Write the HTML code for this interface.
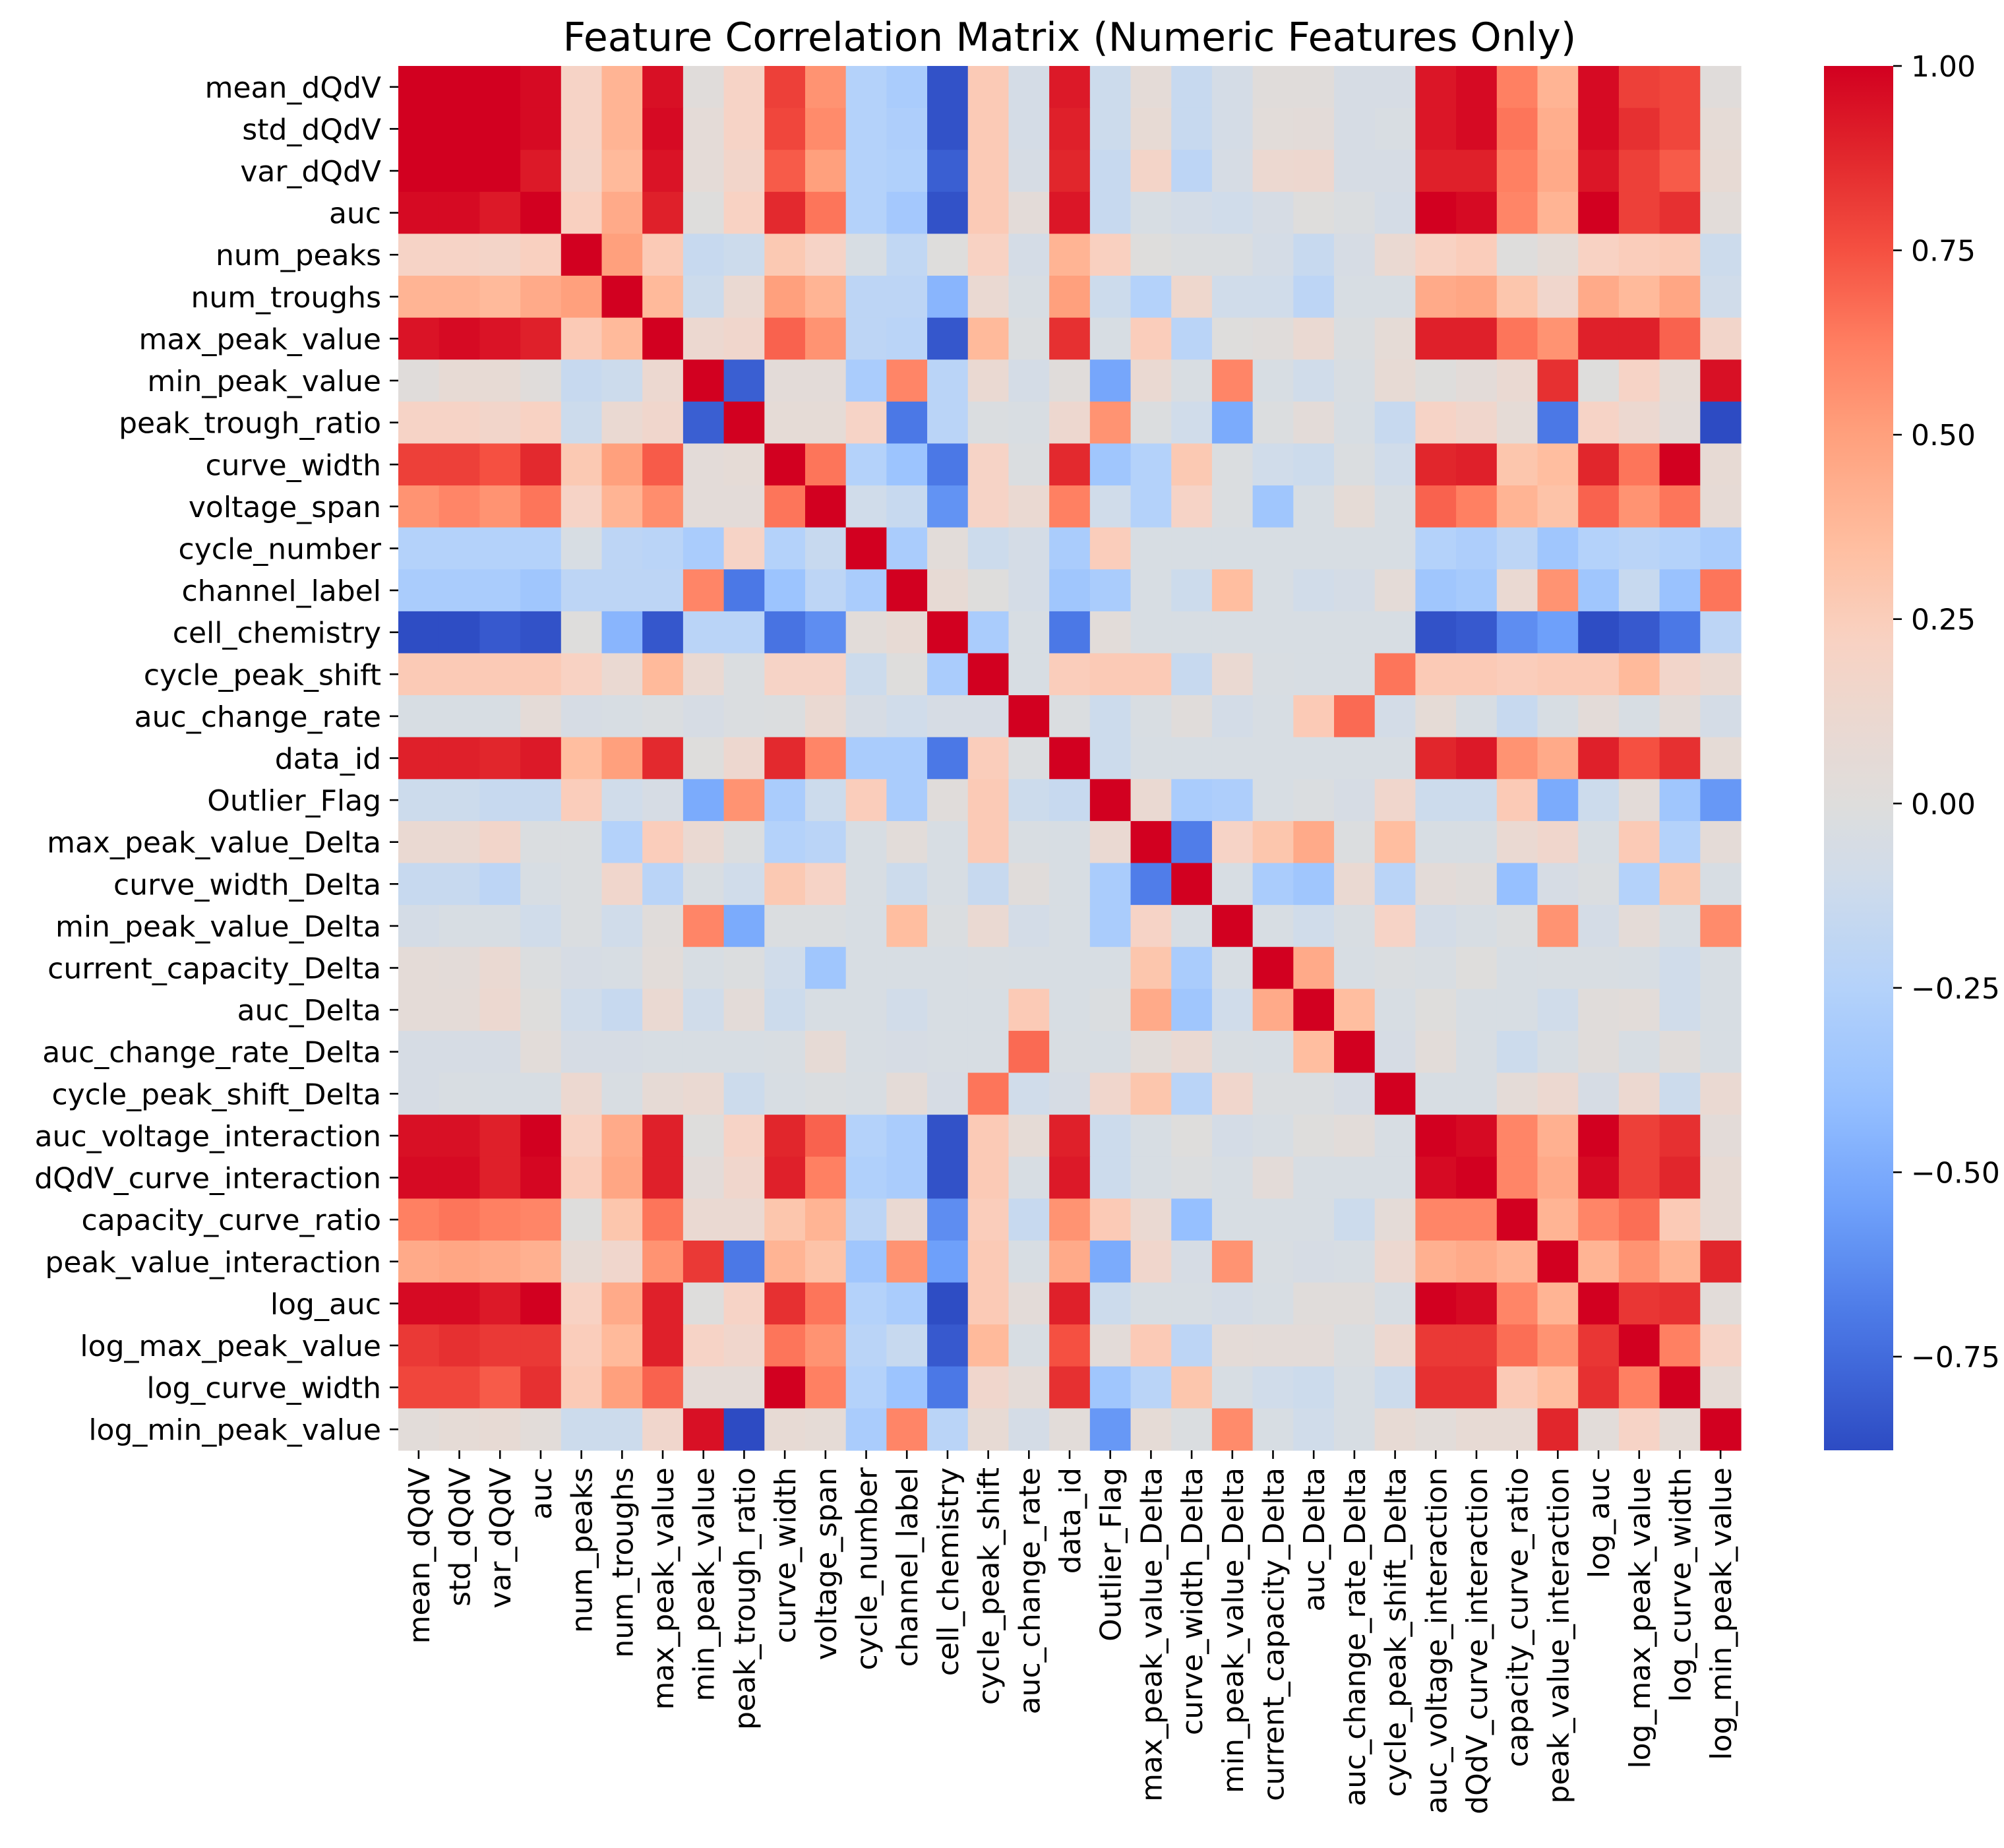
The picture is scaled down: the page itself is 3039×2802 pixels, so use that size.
<!DOCTYPE html>
<html><head><meta charset="utf-8"><style>
html,body{margin:0;padding:0;background:#fff}
svg text{font-family:"DejaVu Sans","Liberation Sans",sans-serif;fill:#000}
</style></head><body>
<svg id="chart" xmlns="http://www.w3.org/2000/svg" width="3039" height="2797" viewBox="0 0 3039 2797">
<rect width="3039" height="2797" fill="#fff"/>
<text x="1622" y="77" font-size="60" text-anchor="middle">Feature Correlation Matrix (Numeric Features Only)</text>
<g id="cells"></g><g id="ylabels"></g><g id="xlabels"></g>
<defs><linearGradient id="cbgrad" x1="0" y1="0" x2="0" y2="1"></linearGradient></defs>
<rect x="2766" y="100" width="105" height="2099" fill="url(#cbgrad)"/>
<g id="cbticks"></g>
</svg>
<script>
const features=["mean_dQdV","std_dQdV","var_dQdV","auc","num_peaks","num_troughs","max_peak_value","min_peak_value","peak_trough_ratio","curve_width","voltage_span","cycle_number","channel_label","cell_chemistry","cycle_peak_shift","auc_change_rate","data_id","Outlier_Flag","max_peak_value_Delta","curve_width_Delta","min_peak_value_Delta","current_capacity_Delta","auc_Delta","auc_change_rate_Delta","cycle_peak_shift_Delta","auc_voltage_interaction","dQdV_curve_interaction","capacity_curve_ratio","peak_value_interaction","log_auc","log_max_peak_value","log_curve_width","log_min_peak_value"];
const r0=[1,1,1,0.97,0.2,0.4,0.95,0.02,0.2,0.8,0.55,-0.25,-0.3,-0.85,0.27,-0.07,0.92,-0.12,0.05,-0.15,-0.07,0.02,0.02,-0.06,-0.06,0.93,0.97,0.62,0.4,0.97,0.8,0.78,0.02];
const r1=[1,1,1,0.97,0.2,0.4,0.97,0.05,0.2,0.78,0.58,-0.25,-0.28,-0.85,0.27,-0.07,0.9,-0.12,0.08,-0.15,-0.07,0.03,0.04,-0.06,-0.04,0.93,0.97,0.65,0.43,0.97,0.85,0.78,0.06];
const r2=[1,1,1,0.92,0.18,0.37,0.94,0.05,0.17,0.72,0.5,-0.25,-0.27,-0.8,0.27,-0.06,0.88,-0.15,0.18,-0.2,-0.06,0.12,0.13,-0.06,-0.06,0.9,0.9,0.62,0.45,0.93,0.8,0.72,0.08];
const r3=[0.97,0.97,0.92,1,0.23,0.45,0.9,0.0,0.22,0.87,0.65,-0.25,-0.33,-0.85,0.27,0.04,0.93,-0.15,-0.05,-0.08,-0.1,-0.06,0.0,-0.03,-0.07,1,0.97,0.6,0.4,1,0.8,0.85,0.03];
const r4=[0.2,0.2,0.18,0.23,1,0.5,0.27,-0.15,-0.12,0.28,0.2,-0.05,-0.18,0,0.22,-0.07,0.4,0.23,0,-0.03,-0.03,-0.07,-0.15,-0.06,0.1,0.22,0.25,0.0,0.06,0.22,0.25,0.27,-0.12];
const r5=[0.4,0.4,0.37,0.45,0.5,1,0.37,-0.12,0.1,0.5,0.4,-0.2,-0.2,-0.45,0.1,-0.05,0.5,-0.12,-0.25,0.14,-0.1,-0.1,-0.2,-0.05,-0.05,0.45,0.47,0.3,0.15,0.45,0.37,0.47,-0.1];
const r6=[0.94,0.97,0.94,0.9,0.27,0.37,1,0.12,0.15,0.7,0.55,-0.2,-0.22,-0.83,0.37,-0.03,0.85,-0.05,0.25,-0.22,0.0,0.02,0.1,-0.03,0.06,0.9,0.9,0.65,0.55,0.9,0.9,0.7,0.17];
const r7=[0.02,0.08,0.08,0.02,-0.15,-0.12,0.12,1,-0.8,0.04,0.04,-0.3,0.6,-0.22,0.1,-0.07,0.02,-0.52,0.1,-0.04,0.6,-0.05,-0.1,-0.04,0.08,0.0,0.04,0.1,0.85,0.0,0.2,0.06,0.95];
const r8=[0.2,0.2,0.17,0.22,-0.12,0.1,0.15,-0.8,1,0.06,0.06,0.2,-0.7,-0.22,-0.03,-0.04,0.13,0.55,-0.02,-0.1,-0.5,-0.02,0.04,-0.05,-0.15,0.2,0.15,0.06,-0.7,0.2,0.12,0.04,-0.88];
const r9=[0.8,0.8,0.75,0.87,0.28,0.5,0.72,0.04,0.06,1,0.65,-0.25,-0.37,-0.7,0.2,-0.03,0.87,-0.35,-0.25,0.28,-0.03,-0.1,-0.12,-0.03,-0.1,0.88,0.9,0.3,0.35,0.88,0.65,1,0.08];
const r10=[0.55,0.6,0.55,0.65,0.2,0.4,0.57,0.04,0.04,0.65,1,-0.1,-0.15,-0.6,0.2,0.1,0.62,-0.1,-0.25,0.2,-0.03,-0.35,-0.05,0.06,-0.05,0.7,0.62,0.4,0.32,0.7,0.55,0.65,0.07];
const r11=[-0.25,-0.25,-0.25,-0.25,-0.05,-0.2,-0.22,-0.3,0.2,-0.25,-0.15,1,-0.3,0.03,-0.12,-0.07,-0.3,0.25,-0.05,-0.05,-0.05,-0.05,-0.05,-0.05,-0.05,-0.25,-0.28,-0.2,-0.35,-0.25,-0.22,-0.25,-0.3];
const r12=[-0.3,-0.3,-0.3,-0.35,-0.2,-0.2,-0.2,0.6,-0.7,-0.37,-0.2,-0.3,1,0.08,0.0,-0.07,-0.35,-0.3,-0.05,-0.12,0.35,-0.05,-0.09,-0.07,0.05,-0.35,-0.32,0.1,0.55,-0.35,-0.15,-0.38,0.65];
const r13=[-0.87,-0.87,-0.82,-0.85,0.0,-0.45,-0.83,-0.22,-0.22,-0.72,-0.62,0.03,0.08,1,-0.3,-0.05,-0.7,0.03,-0.05,-0.05,-0.05,-0.05,-0.05,-0.05,-0.05,-0.85,-0.82,-0.62,-0.55,-0.87,-0.82,-0.7,-0.2];
const r14=[0.27,0.27,0.27,0.27,0.22,0.1,0.37,0.1,-0.03,0.2,0.2,-0.12,0.0,-0.3,1,-0.05,0.25,0.27,0.27,-0.15,0.1,-0.04,-0.05,-0.05,0.65,0.27,0.27,0.25,0.27,0.27,0.37,0.17,0.1];
const r15=[-0.05,-0.05,-0.05,0.05,-0.06,-0.05,-0.03,-0.06,-0.03,-0.02,0.1,-0.06,-0.1,-0.06,-0.06,1,-0.03,-0.12,-0.04,0.02,-0.08,-0.05,0.27,0.68,-0.08,0.06,-0.05,-0.15,-0.05,0.04,-0.05,0.04,-0.07];
const r16=[0.9,0.9,0.88,0.92,0.35,0.5,0.87,0.0,0.13,0.87,0.6,-0.3,-0.3,-0.7,0.25,-0.03,1,-0.12,-0.05,-0.05,-0.05,-0.05,-0.05,-0.05,-0.05,0.88,0.92,0.55,0.45,0.9,0.75,0.85,0.06];
const r17=[-0.12,-0.12,-0.15,-0.15,0.25,-0.1,-0.06,-0.5,0.55,-0.3,-0.12,0.25,-0.3,0.02,0.27,-0.12,-0.15,1,0.1,-0.3,-0.28,-0.05,-0.03,-0.06,0.15,-0.12,-0.12,0.27,-0.5,-0.12,0.04,-0.35,-0.58];
const r18=[0.1,0.1,0.17,-0.03,-0.03,-0.25,0.25,0.1,-0.02,-0.25,-0.22,-0.05,0.03,-0.05,0.27,-0.04,-0.05,0.1,1,-0.68,0.2,0.3,0.45,-0.02,0.35,-0.05,-0.05,0.1,0.15,-0.05,0.27,-0.25,0.05];
const r19=[-0.15,-0.15,-0.2,-0.05,-0.03,0.15,-0.22,-0.04,-0.1,0.28,0.2,-0.05,-0.12,-0.05,-0.15,0.02,-0.05,-0.3,-0.68,1,-0.05,-0.3,-0.35,0.1,-0.22,0.04,0.02,-0.4,-0.06,-0.03,-0.25,0.3,-0.05];
const r20=[-0.07,-0.05,-0.05,-0.1,-0.03,-0.1,0.02,0.6,-0.5,-0.03,-0.03,-0.05,0.35,-0.03,0.1,-0.08,-0.05,-0.3,0.2,-0.05,1,-0.05,-0.1,-0.04,0.2,-0.08,-0.05,-0.02,0.55,-0.07,0.05,-0.05,0.58];
const r21=[0.05,0.04,0.1,-0.02,-0.06,-0.05,0.03,-0.05,-0.02,-0.1,-0.35,-0.05,-0.05,-0.05,-0.04,-0.05,-0.05,-0.05,0.3,-0.3,-0.05,1,0.45,-0.05,-0.03,-0.04,0.0,-0.05,-0.04,-0.04,-0.05,-0.1,-0.05];
const r22=[0.05,0.05,0.12,0.0,-0.1,-0.15,0.1,-0.1,0.04,-0.12,-0.05,-0.05,-0.09,-0.05,-0.05,0.27,-0.05,-0.03,0.45,-0.35,-0.1,0.45,1,0.35,-0.05,0.0,-0.05,-0.05,-0.1,0.02,0.03,-0.1,-0.05];
const r23=[-0.06,-0.06,-0.06,0.03,-0.06,-0.06,-0.05,-0.05,-0.05,-0.04,0.07,-0.05,-0.06,-0.05,-0.05,0.68,-0.04,-0.05,0.03,0.1,-0.04,-0.05,0.35,1,-0.06,0.03,-0.05,-0.12,-0.05,0.02,-0.05,0.02,-0.05];
const r24=[-0.06,-0.04,-0.05,-0.05,0.12,-0.04,0.07,0.1,-0.12,-0.05,-0.03,-0.04,0.05,-0.06,0.65,-0.1,-0.06,0.15,0.3,-0.22,0.15,-0.03,-0.03,-0.06,1,-0.05,-0.05,0.05,0.12,-0.06,0.12,-0.12,0.1];
const r25=[0.95,0.95,0.9,1,0.22,0.45,0.9,0.0,0.2,0.88,0.7,-0.25,-0.3,-0.85,0.27,0.06,0.9,-0.12,-0.05,0.0,-0.07,-0.05,0.0,0.03,-0.05,1,0.97,0.6,0.42,1,0.8,0.85,0.04];
const r26=[0.97,0.97,0.9,0.98,0.25,0.47,0.9,0.04,0.15,0.9,0.62,-0.27,-0.3,-0.85,0.27,-0.05,0.92,-0.12,-0.05,-0.02,-0.05,0.04,-0.05,-0.05,-0.05,0.97,1,0.6,0.45,0.97,0.8,0.88,0.08];
const r27=[0.62,0.65,0.62,0.6,0.0,0.3,0.65,0.1,0.1,0.3,0.4,-0.2,0.1,-0.62,0.25,-0.15,0.55,0.27,0.1,-0.4,-0.05,-0.05,-0.05,-0.12,0.05,0.6,0.6,1,0.4,0.6,0.67,0.27,0.08];
const r28=[0.45,0.47,0.45,0.42,0.08,0.15,0.55,0.82,-0.7,0.4,0.32,-0.35,0.55,-0.55,0.27,-0.05,0.45,-0.5,0.15,-0.06,0.55,-0.04,-0.06,-0.05,0.12,0.42,0.45,0.4,1,0.4,0.55,0.4,0.88];
const r29=[0.97,0.97,0.92,1,0.22,0.45,0.9,0.0,0.2,0.85,0.65,-0.25,-0.3,-0.87,0.27,0.04,0.9,-0.12,-0.05,-0.05,-0.07,-0.05,0.02,0.02,-0.05,1,0.97,0.6,0.4,1,0.83,0.85,0.03];
const r30=[0.82,0.85,0.82,0.82,0.25,0.37,0.9,0.2,0.15,0.65,0.55,-0.22,-0.15,-0.82,0.37,-0.05,0.75,0.04,0.27,-0.2,0.05,0.04,0.04,-0.03,0.12,0.82,0.82,0.67,0.55,0.83,1,0.62,0.2];
const r31=[0.78,0.78,0.72,0.85,0.27,0.5,0.7,0.05,0.05,1,0.62,-0.25,-0.37,-0.7,0.15,0.05,0.85,-0.35,-0.22,0.3,-0.05,-0.1,-0.12,-0.05,-0.12,0.85,0.85,0.27,0.35,0.85,0.62,1,0.06];
const r32=[0.03,0.06,0.08,0.03,-0.12,-0.12,0.15,0.95,-0.88,0.08,0.06,-0.3,0.6,-0.22,0.08,-0.07,0.03,-0.58,0.06,-0.03,0.58,-0.05,-0.1,-0.05,0.08,0.03,0.08,0.08,0.88,0.03,0.2,0.06,1];
const matrix=[r0,r1,r2,r3,r4,r5,r6,r7,r8,r9,r10,r11,r12,r13,r14,r15,r16,r17,r18,r19,r20,r21,r22,r23,r24,r25,r26,r27,r28,r29,r30,r31,r32];
const cbTicks=[1.0,0.75,0.5,0.25,0.0,-0.25,-0.5,-0.75];
const cbTickLabels=["1.00","0.75","0.50","0.25","0.00","\u22120.25","\u22120.50","\u22120.75"];
const vmin=-0.877, vmax=1.0;

const NS="http://www.w3.org/2000/svg";
const X0=604,Y0=100,W=2036,H=2099,n=features.length,cw=W/n,ch=H/n;
const xPos=i=>X0+i*cw, yPos=i=>Y0+i*ch;
const anchors=[[-0.877,[45,75,195]],[-0.7,[75,120,230]],[-0.55,[110,160,250]],[-0.4,[150,192,255]],[-0.25,[180,210,250]],[-0.1,[208,220,234]],[0,[222,221,220]],[0.12,[236,216,208]],[0.22,[248,210,195]],[0.35,[255,190,160]],[0.5,[255,160,125]],[0.62,[255,128,98]],[0.75,[245,80,65]],[0.88,[225,38,44]],[1.0,[210,0,32]]];
function color(v){
  if(v<=anchors[0][0])return `rgb(${anchors[0][1]})`;
  for(let k=1;k<anchors.length;k++){
    if(v<=anchors[k][0]){
      const [a,ca]=anchors[k-1],[b,cb]=anchors[k],t=(v-a)/(b-a);
      return `rgb(${ca.map((c,j)=>Math.round(c+(cb[j]-c)*t)).join(',')})`;
    }
  }
  return `rgb(${anchors[anchors.length-1][1]})`;
}
const cells=document.getElementById('cells');
matrix.forEach((row,i)=>row.forEach((v,j)=>{
  const r=document.createElementNS(NS,'rect');
  r.setAttribute('x',xPos(j));r.setAttribute('y',yPos(i));
  r.setAttribute('width',cw+0.6);r.setAttribute('height',ch+0.6);
  r.setAttribute('fill',color(v));
  
  
  cells.appendChild(r);
}));
const yl=document.getElementById('ylabels'),xl=document.getElementById('xlabels');
features.forEach((f,i)=>{
  const t=document.createElementNS(NS,'line');
  t.setAttribute('x1',X0-13);t.setAttribute('x2',X0);t.setAttribute('y1',yPos(i)+ch/2);t.setAttribute('y2',yPos(i)+ch/2);
  t.setAttribute('stroke','#000');t.setAttribute('stroke-width','2.6');
  
  
  yl.appendChild(t);
  const tx=document.createElementNS(NS,'text');
  tx.setAttribute('x',X0-26);tx.setAttribute('y',yPos(i)+ch/2+16);
  tx.setAttribute('font-size','44');tx.setAttribute('text-anchor','end');
  tx.textContent=f;
  
  
  yl.appendChild(tx);
  const t2=document.createElementNS(NS,'line');
  const cx=xPos(i)+cw/2;
  t2.setAttribute('x1',cx);t2.setAttribute('x2',cx);t2.setAttribute('y1',Y0+H);t2.setAttribute('y2',Y0+H+13);
  t2.setAttribute('stroke','#000');t2.setAttribute('stroke-width','2.6');
  
  
  xl.appendChild(t2);
  const tx2=document.createElementNS(NS,'text');
  tx2.setAttribute('transform',`translate(${cx+16},${Y0+H+26}) rotate(-90)`);
  tx2.setAttribute('font-size','44');tx2.setAttribute('text-anchor','end');
  tx2.textContent=f;
  
  
  xl.appendChild(tx2);
});
const grad=document.getElementById('cbgrad');
for(let k=0;k<=60;k++){
  const v=vmax-(vmax-vmin)*k/60;
  const s=document.createElementNS(NS,'stop');
  s.setAttribute('offset',(k/60).toFixed(4));s.setAttribute('stop-color',color(v));
  grad.appendChild(s);
}
const cbt=document.getElementById('cbticks');
const cbY=v=>100+(vmax-v)/(vmax-vmin)*2099;
cbTicks.forEach((v,k)=>{
  const l=document.createElementNS(NS,'line');
  l.setAttribute('x1',2871);l.setAttribute('x2',2884);l.setAttribute('y1',cbY(v));l.setAttribute('y2',cbY(v));
  l.setAttribute('stroke','#000');l.setAttribute('stroke-width','2.6');
  
  
  cbt.appendChild(l);
  const t=document.createElementNS(NS,'text');
  t.setAttribute('x',2898);t.setAttribute('y',cbY(v)+16);t.setAttribute('font-size','44');
  t.textContent=cbTickLabels[k];
  
  
  cbt.appendChild(t);
});
</script>
</body></html>
